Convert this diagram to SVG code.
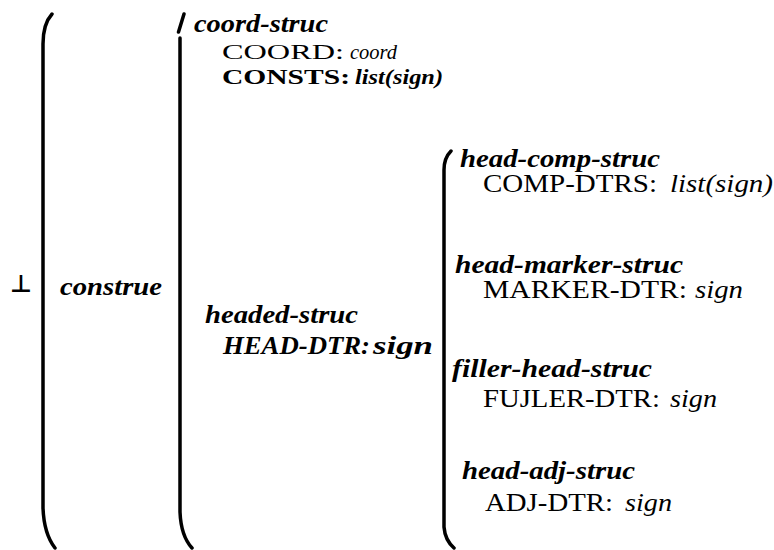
<svg xmlns="http://www.w3.org/2000/svg" width="774" height="550" viewBox="0 0 774 550">
  <style>
    text { font-family: "Liberation Serif", "DejaVu Serif", "Noto Serif", serif; font-size: 25px; fill: #000; }
    .type { font-weight: bold; font-style: italic; }
    .feat { font-weight: normal; font-style: normal; }
    .val { font-style: italic; }
    .bold { font-weight: bold; }
    .big { font-size: 26px; }
    .tight { font-size: 22px; }
    .brace { fill: none; stroke: #000; stroke-width: 3.5; stroke-linecap: round; }
    .sym { font-family: "DejaVu Sans", sans-serif; font-size: 24px; font-weight: bold; }
  </style>
  <rect width="774" height="550" fill="#fff"/>

  <!-- bracket connectors grouping subtypes -->
  <g id="connectors">
    <path class="brace" d="M52,14 Q43,24 43,44 L43,508 Q44,534 55,548"/>
    <path class="brace" d="M184,14 L178.5,32 M180,38 L180,512 Q181,536 192,548"/>
    <path class="brace" d="M451,151 Q444,158 444,170 L444,527 Q445,540 454,548"/>
  </g>

  <g id="bottom">
    <text class="sym" x="21" y="292" text-anchor="middle">⊥</text>
  </g>

  <g id="construe">
    <text class="type big" x="60" y="295" textLength="102" lengthAdjust="spacingAndGlyphs">construe</text>
  </g>

  <g id="coord-struc">
    <text class="type" x="194" y="32" textLength="134" lengthAdjust="spacingAndGlyphs">coord-struc</text>
    <text class="feat tight" x="222" y="59" textLength="122" lengthAdjust="spacingAndGlyphs">COORD:</text>
    <text class="val tight" x="350" y="59" textLength="47" lengthAdjust="spacingAndGlyphs">coord</text>
    <text class="bold tight" x="222" y="84" textLength="128" lengthAdjust="spacingAndGlyphs">CONSTS:</text>
    <text class="type tight" x="355" y="84" textLength="88" lengthAdjust="spacingAndGlyphs">list(sign)</text>
  </g>

  <g id="headed-struc">
    <text class="type" x="205" y="323" textLength="153" lengthAdjust="spacingAndGlyphs">headed-struc</text>
    <text class="type" x="223" y="354" textLength="147" lengthAdjust="spacingAndGlyphs">HEAD-DTR:</text>
    <text class="type" x="373" y="354" textLength="60" lengthAdjust="spacingAndGlyphs">sign</text>
  </g>

  <g id="head-comp-struc">
    <text class="type" x="460" y="167" textLength="200" lengthAdjust="spacingAndGlyphs">head-comp-struc</text>
    <text class="feat" x="483" y="192" textLength="174" lengthAdjust="spacingAndGlyphs">COMP-DTRS:</text>
    <text class="val" x="670" y="192" textLength="103" lengthAdjust="spacingAndGlyphs">list(sign)</text>
  </g>

  <g id="head-marker-struc">
    <text class="type" x="455" y="273" textLength="228" lengthAdjust="spacingAndGlyphs">head-marker-struc</text>
    <text class="feat" x="483" y="298" textLength="204" lengthAdjust="spacingAndGlyphs">MARKER-DTR:</text>
    <text class="val" x="695" y="298" textLength="48" lengthAdjust="spacingAndGlyphs">sign</text>
  </g>

  <g id="filler-head-struc">
    <text class="type" x="452" y="377" textLength="200" lengthAdjust="spacingAndGlyphs">filler-head-struc</text>
    <text class="feat" x="483" y="407" textLength="177" lengthAdjust="spacingAndGlyphs">FUJLER-DTR:</text>
    <text class="val" x="670" y="407" textLength="47" lengthAdjust="spacingAndGlyphs">sign</text>
  </g>

  <g id="head-adj-struc">
    <text class="type" x="462" y="479" textLength="173" lengthAdjust="spacingAndGlyphs">head-adj-struc</text>
    <text class="feat" x="485" y="511" textLength="128" lengthAdjust="spacingAndGlyphs">ADJ-DTR:</text>
    <text class="val" x="625" y="511" textLength="47" lengthAdjust="spacingAndGlyphs">sign</text>
  </g>
</svg>
